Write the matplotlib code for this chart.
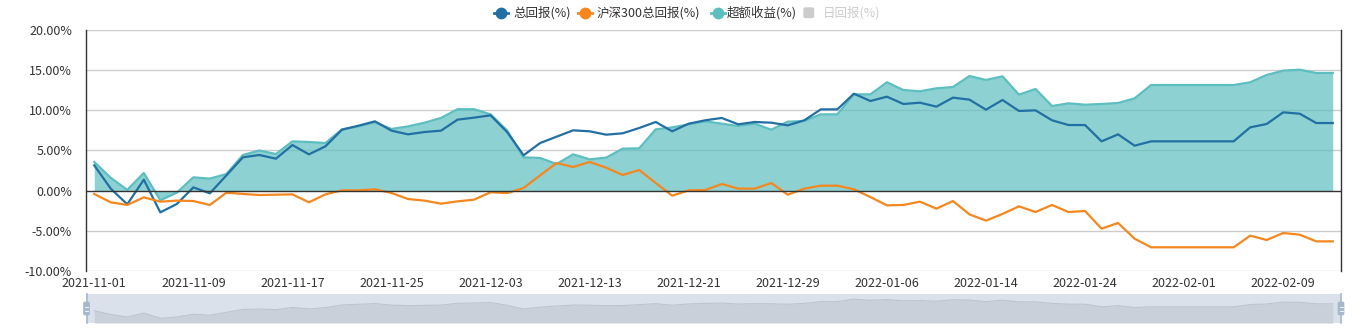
import numpy as np
import pandas as pd
import matplotlib
matplotlib.use('Agg')
import matplotlib.pyplot as plt
from matplotlib.lines import Line2D
from matplotlib.patches import FancyBboxPatch

plt.rcParams['font.family'] = ['Noto Sans CJK SC', 'DejaVu Sans']

# weekdays from 2021-11-01 to 2022-02-14 (holidays kept, values flat)
dates = [d.strftime('%Y-%m-%d') for d in pd.bdate_range('2021-11-01', '2022-02-14')]

# 总回报(%)
total = [3.15, 0.25, -1.70, 1.37, -2.70, -1.66, 0.41, -0.33, 1.90, 4.15,
         4.44, 3.98, 5.68, 4.52, 5.52, 7.59, 8.09, 8.63, 7.47, 7.01,
         7.30, 7.47, 8.84, 9.09, 9.38, 7.30, 4.40, 5.93, 6.72, 7.51,
         7.39, 6.97, 7.14, 7.80, 8.55, 7.39, 8.34, 8.76, 9.05, 8.26,
         8.55, 8.46, 8.13, 8.76, 10.12, 10.12, 12.07, 11.16, 11.70, 10.79,
         10.95, 10.46, 11.58, 11.33, 10.08, 11.29, 9.92, 10.00, 8.76, 8.17,
         8.17, 6.14, 7.01, 5.60, 6.14, 6.14, 6.14, 6.14, 6.14, 6.14,
         7.88, 8.30, 9.75, 9.58, 8.42, 8.42]

# 沪深300总回报(%)
hs300 = [-0.41, -1.45, -1.78, -0.83, -1.37, -1.24, -1.29, -1.78, -0.25, -0.41,
         -0.54, -0.50, -0.46, -1.45, -0.46, 0.04, 0.04, 0.17, -0.29, -1.04,
         -1.24, -1.62, -1.33, -1.12, -0.20, -0.30, 0.33, 1.91, 3.44, 2.95,
         3.57, 2.86, 1.95, 2.57, 0.95, -0.62, 0.04, 0.08, 0.83, 0.25,
         0.25, 0.95, -0.50, 0.25, 0.62, 0.62, 0.17, -0.79, -1.83, -1.78,
         -1.37, -2.24, -1.29, -2.95, -3.73, -2.90, -1.95, -2.66, -1.78, -2.66,
         -2.53, -4.73, -4.02, -5.98, -7.05, -7.05, -7.05, -7.05, -7.05, -7.05,
         -5.60, -6.14, -5.27, -5.48, -6.31, -6.31]

# 超额收益(%)
excess = [3.57, 1.60, 0.10, 2.20, -1.20, -0.25, 1.66, 1.50, 2.07, 4.44,
          5.00, 4.56, 6.14, 6.06, 5.93, 7.63, 8.00, 8.50, 7.68, 8.00,
          8.46, 9.05, 10.14, 10.14, 9.50, 7.50, 4.15, 4.07, 3.32, 4.52,
          3.90, 4.11, 5.23, 5.27, 7.63, 7.88, 8.26, 8.63, 8.34, 8.05,
          8.34, 7.59, 8.59, 8.67, 9.50, 9.50, 11.99, 11.99, 13.49, 12.53,
          12.37, 12.74, 12.90, 14.27, 13.78, 14.23, 11.95, 12.66, 10.54, 10.87,
          10.70, 10.79, 10.91, 11.49, 13.15, 13.15, 13.15, 13.15, 13.15, 13.15,
          13.49, 14.40, 14.94, 15.06, 14.65, 14.65]

yticks = [-10, -5, 0, 5, 10, 15, 20]
legend_names = ['总回报(%)', '沪深300总回报(%)', '超额收益(%)', '日回报(%)']

c_total = '#2270a3'
c_hs = '#f5871e'
c_ex = '#5dbec0'

W, H = 1371, 331
fig = plt.figure(figsize=(W / 100, H / 100), dpi=100)

ax = fig.add_axes([86 / W, 1 - 271 / H, 1255 / W, 241 / H])
x = np.arange(len(dates))

ax.fill_between(x, 0, excess, color=c_ex, alpha=0.7, linewidth=0, zorder=2)
ax.plot(x, excess, color=c_ex, lw=1.6, zorder=3)
ax.plot(x, total, color=c_total, lw=1.6, zorder=4)
ax.plot(x, hs300, color=c_hs, lw=1.6, zorder=4)

ax.set_xlim(-0.5, len(dates) - 0.5)
ax.set_ylim(-10, 20)
ax.set_yticks(yticks)
ax.set_yticklabels(['%.2f%%' % v for v in yticks])
for v in yticks:
    if v != 0:
        ax.axhline(v, color='#cccccc', lw=1, zorder=1)
ax.axhline(0, color='#333333', lw=1, zorder=5)

ax.set_xticks(x[::6])
ax.set_xticklabels(dates[::6])
ax.tick_params(axis='x', length=0, pad=4, labelsize=9, colors='#333333')
ax.tick_params(axis='y', length=0, pad=10, labelsize=9, colors='#333333')
for s in ['top', 'bottom']:
    ax.spines[s].set_visible(False)
for s in ['left', 'right']:
    ax.spines[s].set_color('#333333')
    ax.spines[s].set_linewidth(1)

# data zoom slider
sax = fig.add_axes([86 / W, 1 - 323 / H, 1255 / W, 29 / H])
sax.set_facecolor('#dbe1ea')
sax.fill_between(x, -6.3, total, color='#c9d0da', linewidth=0)
sax.plot(x, total, color='#bcc4cf', lw=0.8)
sax.set_xlim(-0.5, len(dates) - 0.5)
sax.set_ylim(-6.3, 16)
sax.set_xticks([])
sax.set_yticks([])
for s in sax.spines.values():
    s.set_visible(False)

# overlay in pixel coordinates for legend and slider handles
ov = fig.add_axes([0, 0, 1, 1], facecolor='none')
ov.set_xlim(0, W)
ov.set_ylim(H, 0)
ov.axis('off')

for hx in [86.5, 1341]:
    ov.plot([hx, hx], [294, 323], color='#a7b7cc', lw=1.2)
    ov.add_patch(FancyBboxPatch((hx - 3, 302), 6, 13, boxstyle='round,pad=0,rounding_size=1.5',
                                fc='#a7b7cc', ec='#a7b7cc', lw=0.5))
    ov.plot([hx - 1.5, hx + 1.5], [306.5, 306.5], color='white', lw=0.6)
    ov.plot([hx - 1.5, hx + 1.5], [310.5, 310.5], color='white', lw=0.6)

icon_x = [500.5, 584.5, 717.5]
text_x = [513, 597, 727]
for cx, tx, col, name in zip(icon_x, text_x, [c_total, c_hs, c_ex], legend_names[:3]):
    ov.plot([cx - 7, cx + 7], [12.5, 12.5], color=col, lw=2)
    ov.plot([cx], [12.5], marker='o', ms=7.5, color=col, mec=col)
    ov.text(tx, 12.5, name, fontsize=9, color='#333333', va='center', ha='left')
ov.add_patch(FancyBboxPatch((804, 8), 9.5, 9.5, boxstyle='round,pad=0,rounding_size=1.5',
                            fc='#cccccc', ec='#cccccc'))
ov.text(823, 12.5, legend_names[3], fontsize=9, color='#cccccc', va='center', ha='left')

fig.savefig('out.png', dpi=100)
